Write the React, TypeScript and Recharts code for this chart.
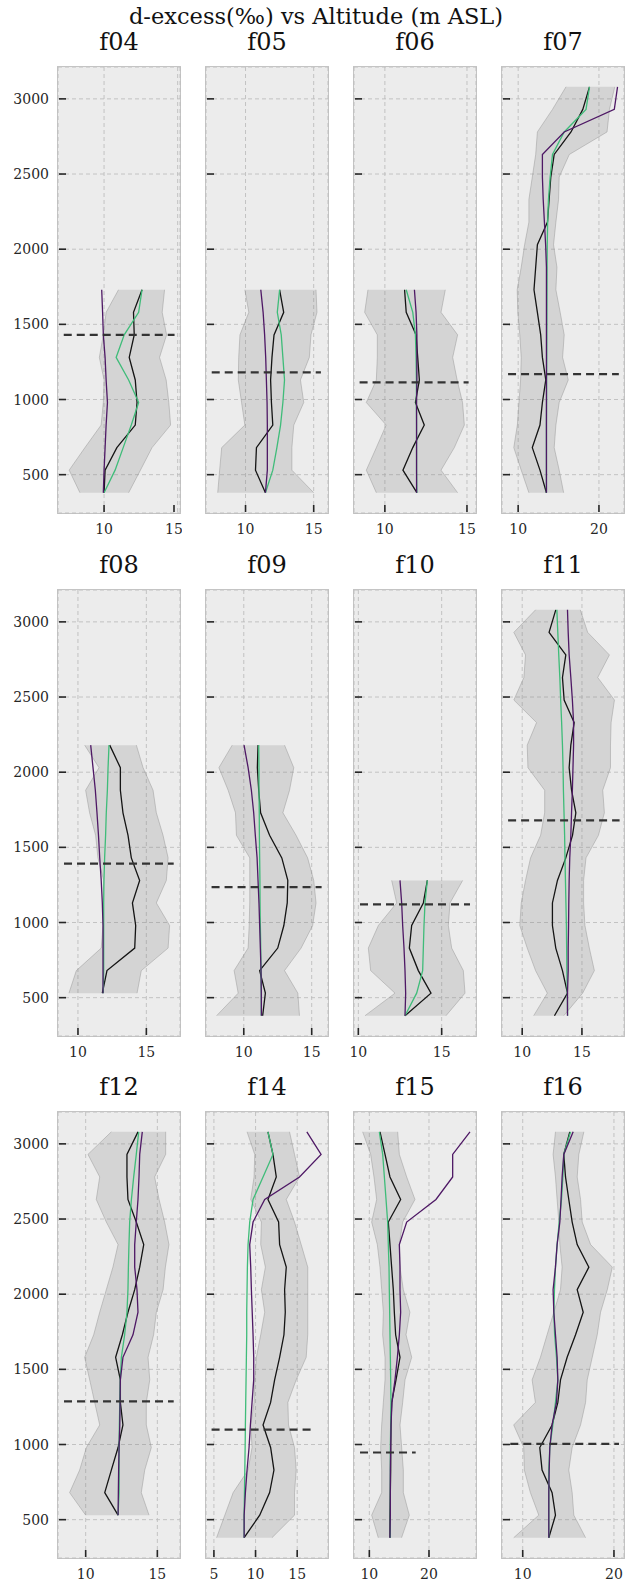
import React from 'react';
import { ComposedChart, Area, Line, XAxis, YAxis, CartesianGrid, ReferenceLine } from 'recharts';

const FONT = '"DejaVu Serif", serif';

// altitude levels (m ASL), shared by every panel
const LEVELS = [380, 530, 680, 830, 980, 1130, 1280, 1430, 1580, 1730, 1880, 2030, 2180, 2330, 2480, 2630, 2780, 2930, 3080];
const ALT_TICKS = [500, 1000, 1500, 2000, 2500, 3000];
const ALT_DOMAIN = [245, 3212];

// f04 (380 - 1730)
const F04_LO = [8.36, 7.63, 8.7, 9.8, 9.95, 10.0, 9.68, 9.95, 10.14, 10.98];
const F04_HI = [11.67, 12.47, 13.26, 14.52, 14.4, 14.22, 13.77, 14.25, 13.95, 14.11];
const F04_OBS = [10.0, 10.07, 10.87, 12.12, 12.24, 12.12, 11.71, 12.05, 12.0, 12.58];
const F04_A = [10.0, 10.75, 11.3, 11.85, 12.35, 11.67, 10.82, 11.37, 12.35, 12.58];
const F04_B = [9.95, 10.0, 10.07, 10.14, 10.23, 10.14, 10.07, 9.95, 9.9, 9.84];
const F04_DASH = [1430, 7.26, 14.79];

// f05 (380 - 1730)
const F05_LO = [7.96, 8.1, 8.25, 9.95, 9.71, 9.47, 9.5, 9.59, 10.24, 9.95];
const F05_HI = [15.0, 13.4, 13.4, 13.54, 14.27, 14.03, 14.68, 14.8, 15.24, 15.17];
const F05_OBS = [11.46, 10.73, 10.8, 12.0, 11.9, 11.84, 11.94, 12.09, 12.8, 12.5];
const F05_A = [11.46, 12.0, 12.3, 12.57, 12.74, 12.86, 12.74, 12.62, 12.33, 12.5];
const F05_B = [11.46, 11.6, 11.6, 11.6, 11.58, 11.53, 11.48, 11.4, 11.29, 11.12];
const F05_DASH = [1180, 7.52, 15.53];

// f06 (380 - 1730)
const F06_LO = [9.48, 8.87, 9.48, 10.08, 8.87, 9.48, 9.54, 9.54, 8.77, 8.97];
const F06_HI = [14.43, 13.42, 14.23, 14.84, 14.73, 14.4, 14.13, 14.43, 13.42, 13.68];
const F06_OBS = [11.95, 11.1, 11.7, 12.4, 11.86, 12.1, 12.0, 11.9, 11.3, 11.2];
const F06_A = [11.95, 11.93, 11.93, 11.93, 11.92, 11.92, 11.9, 11.86, 11.7, 11.3];
const F06_B = [11.93, 11.93, 11.93, 11.93, 11.93, 11.95, 11.95, 11.95, 11.9, 11.8];
const F06_DASH = [1114, 8.46, 15.1];

// f07 (380 - 3080)
const F07_LO = [11.33, 10.38, 9.46, 9.9, 10.1, 10.3, 10.38, 10.2, 9.96, 9.88, 10.38, 10.8, 11.33, 11.33, 11.75, 12.17, 12.38, 14.25, 15.92];
const F07_HI = [15.63, 15.08, 14.46, 14.67, 15.08, 16.2, 15.5, 15.7, 15.2, 14.67, 14.8, 14.38, 14.67, 15.0, 15.08, 16.33, 21.0, 21.3, 21.96];
const F07_OBS = [13.5, 12.7, 11.75, 12.7, 13.0, 13.42, 13.0, 12.79, 12.38, 11.96, 12.17, 12.38, 13.63, 13.83, 14.04, 14.46, 16.54, 18.0, 18.83];
const F07_A = [13.5, 13.5, 13.5, 13.5, 13.52, 13.52, 13.54, 13.55, 13.56, 13.57, 13.58, 13.6, 13.65, 13.75, 13.96, 14.25, 15.7, 18.4, 18.83];
const F07_B = [13.5, 13.5, 13.5, 13.5, 13.5, 13.5, 13.5, 13.5, 13.5, 13.5, 13.5, 13.4, 13.25, 13.1, 13.0, 13.0, 15.7, 21.9, 22.3];
const F07_DASH = [1169, 8.75, 22.46];

// f08 (530 - 2180)
const F08_LO = [9.34, 9.88, 11.7, 11.83, 11.83, 11.88, 11.46, 11.29, 10.85, 10.56, 11.54, 10.49];
const F08_HI = [14.32, 14.63, 16.59, 16.7, 15.73, 16.46, 16.59, 16.22, 15.73, 15.49, 14.76, 14.27];
const F08_OBS = [11.78, 12.12, 14.15, 14.22, 13.98, 14.51, 13.9, 13.66, 13.29, 13.1, 13.1, 12.32];
const F08_A = [11.85, 11.88, 11.88, 11.88, 11.88, 11.9, 11.95, 12.02, 12.07, 12.15, 12.2, 12.27];
const F08_B = [11.83, 11.83, 11.83, 11.83, 11.78, 11.7, 11.59, 11.5, 11.39, 11.27, 11.1, 10.93];
const F08_DASH = [1392, 8.98, 17.0];

// f09 (380 - 2180)
const F09_LO = [8.0, 9.59, 9.29, 10.32, 10.4, 10.44, 10.44, 10.44, 9.46, 9.39, 8.85, 8.17, 9.15];
const F09_HI = [14.1, 13.98, 13.0, 14.22, 15.07, 15.32, 15.15, 14.7, 13.85, 12.88, 13.37, 13.68, 13.0];
const F09_OBS = [11.39, 11.59, 11.17, 12.5, 12.95, 13.2, 13.24, 12.8, 11.9, 11.24, 11.1, 11.0, 11.05];
const F09_A = [11.29, 11.29, 11.27, 11.25, 11.22, 11.2, 11.19, 11.17, 11.15, 11.14, 11.12, 11.12, 11.1];
const F09_B = [11.3, 11.29, 11.27, 11.22, 11.17, 11.12, 11.05, 10.98, 10.85, 10.73, 10.56, 10.32, 10.02];
const F09_DASH = [1236, 7.63, 15.73];

// f10 (380 - 1280)
const F10_LO = [10.4, 12.2, 10.74, 10.6, 11.2, 12.3, 12.0];
const F10_HI = [15.26, 16.4, 16.3, 15.6, 15.4, 15.5, 16.26];
const F10_OBS = [12.8, 14.36, 13.6, 13.06, 13.2, 13.9, 14.14];
const F10_A = [12.8, 13.5, 13.86, 13.9, 13.94, 14.0, 14.14];
const F10_B = [12.8, 12.84, 12.8, 12.74, 12.66, 12.6, 12.5];
const F10_DASH = [1120, 10.1, 16.7];

// f11 (380 - 3080)
const F11_LO = [10.96, 12.1, 11.12, 10.42, 9.8, 9.92, 10.28, 10.7, 11.54, 11.88, 11.88, 10.48, 10.42, 11.2, 9.3, 10.14, 10.28, 9.3, 11.12];
const F11_HI = [13.48, 15.06, 16.04, 15.62, 15.25, 15.14, 15.14, 15.34, 16.38, 16.88, 16.74, 17.39, 17.39, 17.44, 17.72, 16.32, 17.3, 15.48, 14.86];
const F11_OBS = [12.7, 13.79, 13.37, 12.81, 12.53, 12.53, 12.95, 13.65, 14.21, 14.49, 14.13, 13.93, 14.07, 14.35, 13.51, 13.37, 13.65, 12.25, 12.81];
const F11_A = [13.8, 13.78, 13.74, 13.72, 13.7, 13.66, 13.62, 13.58, 13.55, 13.5, 13.45, 13.42, 13.37, 13.3, 13.22, 13.15, 13.06, 12.98, 12.9];
const F11_B = [13.79, 13.79, 13.85, 13.85, 13.88, 13.9, 13.93, 13.98, 14.07, 14.13, 14.2, 14.25, 14.3, 14.3, 14.2, 14.07, 13.93, 13.85, 13.79];
const F11_DASH = [1680, 8.82, 18.15];

// f12 (530 - 3080)
const F12_LO = [10.0, 8.88, 9.58, 10.05, 10.98, 10.63, 10.28, 9.93, 10.56, 10.98, 11.44, 11.9, 12.26, 11.44, 10.74, 10.98, 10.16, 11.79];
const F12_HI = [14.42, 13.88, 14.12, 14.58, 14.23, 14.23, 14.47, 14.35, 14.74, 14.93, 15.4, 15.56, 15.81, 15.51, 15.12, 14.81, 15.58, 15.58];
const F12_OBS = [12.26, 11.33, 11.79, 12.26, 12.6, 12.42, 12.42, 12.09, 12.56, 12.95, 13.42, 13.77, 14.05, 13.53, 12.95, 12.88, 12.88, 13.65];
const F12_A = [12.26, 12.33, 12.33, 12.33, 12.35, 12.38, 12.42, 12.49, 12.72, 12.88, 12.95, 12.98, 13.02, 13.07, 13.19, 13.35, 13.53, 13.7];
const F12_B = [12.26, 12.28, 12.3, 12.33, 12.38, 12.4, 12.42, 12.6, 13.3, 13.65, 13.58, 13.42, 13.42, 13.53, 13.65, 13.72, 13.77, 13.95];
const F12_DASH = [1287, 8.49, 16.14];

// f14 (380 - 3080)
const F14_LO = [5.32, 6.31, 7.31, 9.1, 9.58, 9.42, 9.82, 9.9, 10.1, 10.62, 11.1, 10.7, 11.18, 10.62, 10.7, 9.42, 9.82, 9.9, 8.98];
const F14_HI = [11.97, 14.68, 14.68, 14.88, 14.68, 13.96, 13.88, 14.88, 16.08, 16.27, 16.27, 16.27, 16.27, 15.48, 14.68, 13.69, 15.28, 14.68, 14.08];
const F14_OBS = [8.63, 10.5, 11.69, 12.21, 11.81, 10.9, 11.81, 12.29, 12.89, 13.41, 13.57, 13.49, 13.69, 12.89, 12.77, 11.49, 12.49, 12.09, 11.49];
const F14_A = [8.63, 8.63, 8.67, 8.71, 8.75, 8.78, 8.82, 8.86, 8.9, 8.94, 8.94, 8.98, 9.02, 9.1, 9.3, 9.7, 10.9, 12.09, 11.49];
const F14_B = [8.63, 8.63, 8.78, 8.98, 9.22, 9.38, 9.58, 9.78, 9.78, 9.7, 9.6, 9.5, 9.42, 9.3, 9.7, 11.1, 15.28, 17.87, 16.16];
const F14_DASH = [1099, 4.72, 16.87];

// f15 (380 - 3080)
const F15_LO = [11.5, 10.39, 12.07, 12.07, 11.9, 12.07, 12.35, 12.63, 12.63, 12.23, 12.35, 12.07, 11.79, 11.34, 10.39, 11.23, 10.78, 10.22, 8.88];
const F15_HI = [15.4, 16.7, 15.7, 15.7, 15.42, 15.14, 15.59, 15.98, 17.1, 16.15, 16.8, 15.7, 15.14, 15.03, 15.59, 17.65, 16.26, 15.03, 14.75];
const F15_OBS = [13.46, 13.46, 13.52, 13.58, 13.58, 13.63, 13.74, 14.47, 15.14, 14.41, 14.19, 14.02, 13.74, 13.46, 13.18, 15.25, 13.46, 12.63, 11.79];
const F15_A = [13.52, 13.52, 13.52, 13.52, 13.52, 13.58, 13.63, 13.58, 13.52, 13.46, 13.41, 13.35, 13.3, 13.18, 13.07, 12.8, 12.52, 12.24, 11.68];
const F15_B = [13.46, 13.52, 13.52, 13.52, 13.58, 13.63, 13.8, 14.3, 14.7, 15.03, 15.25, 15.14, 15.14, 15.03, 16.26, 21.17, 23.97, 23.97, 26.87];
const F15_DASH = [947, 8.44, 17.77];

// f16 (380 - 3080)
const F16_LO = [9.01, 11.76, 10.84, 10.18, 10.11, 9.01, 11.39, 11.03, 11.94, 12.67, 13.41, 14.14, 14.32, 14.07, 13.96, 13.77, 13.59, 13.33, 13.59];
const F16_HI = [16.89, 15.6, 15.42, 15.05, 15.42, 16.34, 16.89, 17.07, 17.62, 18.17, 18.53, 19.27, 19.82, 17.44, 16.52, 16.34, 15.97, 16.15, 16.7];
const F16_OBS = [12.86, 13.59, 13.22, 12.12, 11.87, 13.22, 13.85, 14.14, 14.87, 15.79, 16.63, 15.97, 17.25, 15.97, 15.42, 15.05, 14.69, 14.5, 15.16];
const F16_A = [12.86, 12.86, 12.86, 12.86, 12.97, 13.3, 13.59, 13.85, 13.7, 13.5, 13.41, 13.48, 13.59, 13.77, 14.0, 14.25, 14.4, 14.5, 15.24];
const F16_B = [12.86, 12.86, 12.86, 12.9, 12.97, 13.22, 13.7, 13.85, 13.77, 13.59, 13.41, 13.33, 13.59, 13.77, 14.07, 14.2, 14.32, 14.5, 15.53];
const F16_DASH = [1004, 8.64, 20.55];

const PANELS = [
  { name: 'f04', from: 380, lo: F04_LO, hi: F04_HI, obs: F04_OBS, a: F04_A, b: F04_B, dash: F04_DASH, domain: [6.87, 15.16], ticks: [10, 15] },
  { name: 'f05', from: 380, lo: F05_LO, hi: F05_HI, obs: F05_OBS, a: F05_A, b: F05_B, dash: F05_DASH, domain: [7.1, 16.05], ticks: [10, 15] },
  { name: 'f06', from: 380, lo: F06_LO, hi: F06_HI, obs: F06_OBS, a: F06_A, b: F06_B, dash: F06_DASH, domain: [8.12, 15.55], ticks: [10, 15] },
  { name: 'f07', from: 380, lo: F07_LO, hi: F07_HI, obs: F07_OBS, a: F07_A, b: F07_B, dash: F07_DASH, domain: [8.0, 23.1], ticks: [10, 20] },
  { name: 'f08', from: 530, lo: F08_LO, hi: F08_HI, obs: F08_OBS, a: F08_A, b: F08_B, dash: F08_DASH, domain: [8.54, 17.46], ticks: [10, 15] },
  { name: 'f09', from: 380, lo: F09_LO, hi: F09_HI, obs: F09_OBS, a: F09_A, b: F09_B, dash: F09_DASH, domain: [7.22, 16.2], ticks: [10, 15] },
  { name: 'f10', from: 380, lo: F10_LO, hi: F10_HI, obs: F10_OBS, a: F10_A, b: F10_B, dash: F10_DASH, domain: [9.74, 17.06], ticks: [10, 15] },
  { name: 'f11', from: 380, lo: F11_LO, hi: F11_HI, obs: F11_OBS, a: F11_A, b: F11_B, dash: F11_DASH, domain: [8.31, 18.52], ticks: [10, 15] },
  { name: 'f12', from: 530, lo: F12_LO, hi: F12_HI, obs: F12_OBS, a: F12_A, b: F12_B, dash: F12_DASH, domain: [8.07, 16.58], ticks: [10, 15] },
  { name: 'f14', from: 380, lo: F14_LO, hi: F14_HI, obs: F14_OBS, a: F14_A, b: F14_B, dash: F14_DASH, domain: [4.05, 18.7], ticks: [5, 10, 15] },
  { name: 'f15', from: 380, lo: F15_LO, hi: F15_HI, obs: F15_OBS, a: F15_A, b: F15_B, dash: F15_DASH, domain: [7.43, 27.88], ticks: [10, 20] },
  { name: 'f16', from: 380, lo: F16_LO, hi: F16_HI, obs: F16_OBS, a: F16_A, b: F16_B, dash: F16_DASH, domain: [7.73, 21.1], ticks: [10, 20] },
];

const COL_LEFT = [58, 206, 354, 502];
const ROW_TOP = [67, 590, 1112];
const PLOT_W = 122;
const PLOT_H = 446;
const AXIS_W = 58;
const AXIS_H = 30;

const YTick = ({ x, y, payload, showLabel }: any) => (
  <g>
    <line x1={x + 1} x2={x + 8} y1={y} y2={y} stroke="#262626" strokeWidth={1.6} />
    {showLabel && (
      <text x={x - 9} y={y} dy="0.36em" textAnchor="end" fontSize={14} fontFamily={FONT} fill="#262626">
        {payload.value}
      </text>
    )}
  </g>
);

const XTick = ({ x, y, payload }: any) => (
  <g>
    <line x1={x} x2={x} y1={y - 1} y2={y - 8} stroke="#262626" strokeWidth={1.6} />
    <text x={x} y={y + 21} textAnchor="middle" fontSize={14} fontFamily={FONT} fill="#262626">
      {payload.value}
    </text>
  </g>
);

const Panel = ({ p, col, row }: any) => {
  const start = LEVELS.indexOf(p.from);
  const rows = p.lo.map((lo: number, i: number) => ({
    alt: LEVELS[start + i],
    band: [lo, p.hi[i]],
    obs: p.obs[i],
    a: p.a[i],
    b: p.b[i],
  }));
  const [dashAlt, dashX1, dashX2] = p.dash;

  return (
    <div style={{ position: 'absolute', left: COL_LEFT[col] - AXIS_W, top: ROW_TOP[row], width: AXIS_W + PLOT_W + 2, height: PLOT_H + AXIS_H }}>
      <div
        style={{
          position: 'absolute', left: AXIS_W - 1, top: -1, width: PLOT_W + 2, height: PLOT_H + 2,
          boxSizing: 'border-box', border: '1.5px solid #c4c4c4', background: '#ececec',
        }}
      />
      <div
        style={{
          position: 'absolute', left: AXIS_W, top: -37, width: PLOT_W, textAlign: 'center',
          fontFamily: FONT, fontSize: 24, lineHeight: '24px', color: '#111',
        }}
      >
        {p.name}
      </div>
      <div style={{ position: 'absolute', left: 0, top: 0 }}>
        <ComposedChart layout="vertical" width={AXIS_W + PLOT_W + 2} height={PLOT_H + AXIS_H} data={rows}
          margin={{ top: 0, right: 2, bottom: 0, left: 0 }}>
          <CartesianGrid strokeDasharray="4 3" stroke="#bdbdbd" strokeWidth={0.9} />
          <XAxis type="number" domain={p.domain} ticks={p.ticks} allowDataOverflow height={AXIS_H}
            axisLine={false} tickLine={false} tickSize={0} tickMargin={0} tick={(t: any) => <XTick {...t} />} />
          <YAxis type="number" dataKey="alt" domain={ALT_DOMAIN} ticks={ALT_TICKS} allowDataOverflow width={AXIS_W}
            reversed axisLine={false} tickLine={false} tickSize={0} tickMargin={0}
            tick={(t: any) => <YTick {...t} showLabel={col === 0} />} />
          <Area dataKey="band" type="linear" fill="#7f7f7f" fillOpacity={0.22} stroke="#8f8f8f" strokeOpacity={0.55}
            strokeWidth={0.8} isAnimationActive={false} dot={false} activeDot={false} />
          <Line dataKey="obs" type="linear" stroke="#141414" strokeWidth={1.3} dot={false} isAnimationActive={false} />
          <Line dataKey="a" type="linear" stroke="#3fbc79" strokeWidth={1.3} dot={false} isAnimationActive={false} />
          <Line dataKey="b" type="linear" stroke="#4e1865" strokeWidth={1.3} dot={false} isAnimationActive={false} />
          <ReferenceLine segment={[{ x: dashX1, y: dashAlt }, { x: dashX2, y: dashAlt }]}
            stroke="#333" strokeWidth={2.2} strokeDasharray="8 5" />
        </ComposedChart>
      </div>
    </div>
  );
};

export default function App() {
  return (
    <div style={{ position: 'absolute', left: 0, top: 0, width: 625, height: 1585, background: '#fff', overflow: 'hidden' }}>
      <div style={{ position: 'absolute', left: 316, top: 5, transform: 'translateX(-50%)', whiteSpace: 'nowrap',
        fontFamily: FONT, fontSize: 22.5, lineHeight: '22.5px', color: '#111' }}>
        d-excess(‰) vs Altitude (m ASL)
      </div>
      {PANELS.map((p, i) => (
        <Panel key={p.name} p={p} col={i % 4} row={Math.floor(i / 4)} />
      ))}
    </div>
  );
}
